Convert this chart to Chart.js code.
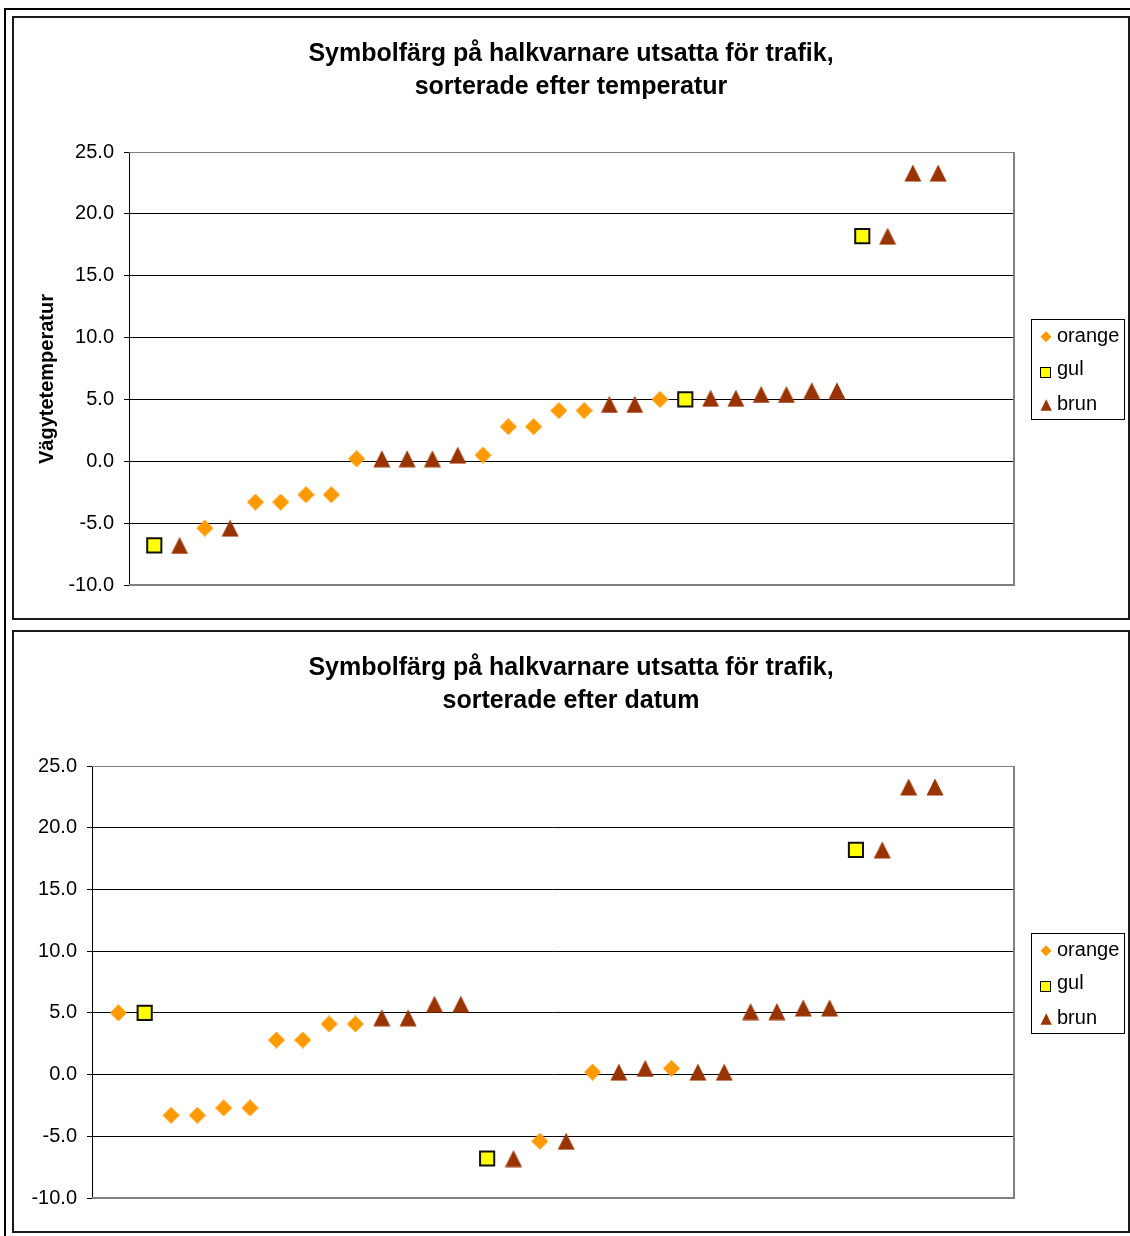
<!DOCTYPE html>
<html><head><meta charset="utf-8">
<script src="https://cdn.jsdelivr.net/npm/chart.js@4.4.1/dist/chart.umd.min.js"></script>
<style>
html,body{margin:0;padding:0;background:#fff;width:1130px;height:1236px;overflow:hidden;}
#frame{position:absolute;left:4px;top:8px;width:1200px;height:1300px;border-top:2px solid #000;border-left:2px solid #000;}
.box{position:absolute;left:12px;width:1118px;box-sizing:border-box;border:2px solid #1a1a1a;background:#fff;}
#box1{top:16px;height:604px;}
#box2{top:630px;height:603px;}
canvas{position:absolute;left:0;top:0;}
</style></head>
<body>
<div id="frame"></div>
<div class="box" id="box1"><canvas id="c1" width="1114" height="600"></canvas></div>
<div class="box" id="box2"><canvas id="c2" width="1114" height="599"></canvas></div>
<script>
// ---- data ----
const seriesNames = ['orange', 'gul', 'brun'];
const seriesColors = ['#FF9900', '#FFFF00', '#993300'];
const yTicks = [-10, -5, 0, 5, 10, 15, 20, 25];

const topTitle = ['Symbolfärg på halkvarnare utsatta för trafik,', 'sorterade efter temperatur'];
const topTemps = [-6.8, -6.8, -5.4, -5.4, -3.3, -3.3, -2.7, -2.7, 0.2, 0.2, 0.2, 0.2, 0.5, 0.5, 2.8, 2.8,
                  4.1, 4.1, 4.6, 4.6, 5.0, 5.0, 5.1, 5.1, 5.4, 5.4, 5.7, 5.7, 18.2, 18.2, 23.3, 23.3];
const topSymbols = ['gul','brun','orange','brun','orange','orange','orange','orange','orange','brun','brun','brun','brun','orange','orange','orange',
                    'orange','orange','brun','brun','orange','gul','brun','brun','brun','brun','brun','brun','gul','brun','brun','brun'];

const bottomTitle = ['Symbolfärg på halkvarnare utsatta för trafik,', 'sorterade efter datum'];
const bottomTemps = [5.0, 5.0, -3.3, -3.3, -2.7, -2.7, 2.8, 2.8, 4.1, 4.1, 4.6, 4.6, 5.7, 5.7, -6.8, -6.8,
                     -5.4, -5.4, 0.2, 0.2, 0.5, 0.5, 0.2, 0.2, 5.1, 5.1, 5.4, 5.4, 18.2, 18.2, 23.3, 23.3];
const bottomSymbols = ['orange','gul','orange','orange','orange','orange','orange','orange','orange','orange','brun','brun','brun','brun','gul','brun',
                       'orange','brun','orange','brun','brun','orange','brun','brun','brun','brun','brun','brun','gul','brun','brun','brun'];

const yAxisTitle = 'Vägytetemperatur';
// ---------------

const FONT = '"Liberation Sans", Arial, sans-serif';

function triangleImage() {
  const c = document.createElement('canvas');
  c.width = 18; c.height = 18;
  const g = c.getContext('2d');
  g.fillStyle = seriesColors[2];
  g.beginPath();
  g.moveTo(9, 0.5); g.lineTo(17.5, 17.5); g.lineTo(0.5, 17.5); g.closePath();
  g.fill();
  return c;
}
function diamondImage() {
  const c = document.createElement('canvas');
  c.width = 17; c.height = 17;
  const g = c.getContext('2d');
  g.fillStyle = seriesColors[0];
  g.beginPath();
  g.moveTo(8.5, 0); g.lineTo(17, 8.5); g.lineTo(8.5, 17); g.lineTo(0, 8.5); g.closePath();
  g.fill();
  return c;
}
const triImg = triangleImage();
const diaImg = diamondImage();

const styleFor = {
  orange: {pointStyle: diaImg, pointRadius: 9, pointBackgroundColor: seriesColors[0], pointBorderColor: seriesColors[0], pointBorderWidth: 0},
  gul:    {pointStyle: 'rect', pointRadius: 10, pointBackgroundColor: seriesColors[1], pointBorderColor: '#111', pointBorderWidth: 2},
  brun:   {pointStyle: triImg, pointRadius: 9, pointBackgroundColor: seriesColors[2], pointBorderColor: seriesColors[2], pointBorderWidth: 0}
};

function makeDatasets(temps, symbols) {
  return seriesNames.map((name) => Object.assign({
    label: name,
    data: temps.map((t, i) => symbols[i] === name ? {x: i + 1, y: t} : null).filter(p => p !== null),
    showLine: false
  }, styleFor[name]));
}

const framePlugin = {
  id: 'frameLegend',
  beforeDatasetsDraw(chart) {
    const a = chart.chartArea, ctx = chart.ctx;
    ctx.save();
    ctx.strokeStyle = '#808080';
    ctx.lineWidth = 1;
    ctx.beginPath(); ctx.moveTo(a.left, a.top + 0.5); ctx.lineTo(a.right, a.top + 0.5); ctx.stroke();
    ctx.lineWidth = 2;
    ctx.beginPath(); ctx.moveTo(a.right, a.top); ctx.lineTo(a.right, a.bottom + 1); ctx.stroke();
    ctx.beginPath(); ctx.moveTo(a.left, a.bottom); ctx.lineTo(a.right + 1, a.bottom); ctx.stroke();
    ctx.restore();
  },
  afterDraw(chart, args, opts) {
    const ctx = chart.ctx;
    ctx.save();
    // legend box
    ctx.strokeStyle = '#000'; ctx.lineWidth = 1;
    ctx.strokeRect(1017.5, 301.5, 93, 100);
    // orange diamond
    ctx.fillStyle = seriesColors[0];
    ctx.beginPath();
    ctx.moveTo(1032, 313.2); ctx.lineTo(1037.5, 318.7); ctx.lineTo(1032, 324.2); ctx.lineTo(1026.5, 318.7); ctx.closePath();
    ctx.fill();
    // gul square
    ctx.fillStyle = seriesColors[1];
    ctx.fillRect(1026.5, 349.5, 10, 10);
    ctx.strokeStyle = '#000';
    ctx.strokeRect(1026.5, 349.5, 10, 10);
    // brun triangle
    ctx.fillStyle = seriesColors[2];
    ctx.beginPath();
    ctx.moveTo(1032.2, 381.3); ctx.lineTo(1037.8, 392.7); ctx.lineTo(1026.6, 392.7); ctx.closePath();
    ctx.fill();
    // legend text
    ctx.fillStyle = '#000';
    ctx.font = '20px ' + FONT;
    ctx.textAlign = 'left'; ctx.textBaseline = 'alphabetic';
    const baselines = [324, 357, 392];
    seriesNames.forEach((n, i) => ctx.fillText(n, 1043, baselines[i]));
    // y-axis title
    if (opts.yTitle) {
      ctx.translate(39, 361);
      ctx.rotate(-Math.PI / 2);
      ctx.font = 'bold 20px ' + FONT;
      ctx.textAlign = 'center';
      ctx.fillText(opts.yTitle, 0, 0);
    }
    ctx.restore();
  }
};

function makeChart(id, title, temps, symbols, yWidth, yTitle) {
  return new Chart(document.getElementById(id), {
    type: 'scatter',
    data: {datasets: makeDatasets(temps, symbols)},
    plugins: [framePlugin],
    options: {
      responsive: false,
      animation: false,
      events: [],
      layout: {padding: {left: 0, right: 0, top: 0, bottom: 33}},
      plugins: {
        legend: {display: false},
        tooltip: {enabled: false},
        title: {
          display: true,
          text: title,
          color: '#000',
          font: {family: FONT, size: 25, weight: 'bold', lineHeight: 1.32},
          padding: {top: 19.5, bottom: 48.5}
        },
        frameLegend: {yTitle: yTitle}
      },
      scales: {
        x: {type: 'linear', min: 0, max: 35, display: false},
        y: {
          type: 'linear', position: 'left',
          min: yTicks[0], max: yTicks[yTicks.length - 1],
          afterBuildTicks: (s) => { s.ticks = yTicks.map(v => ({value: v})); },
          afterFit: (s) => { s.width = yWidth; },
          ticks: {
            color: '#000', padding: 10,
            font: {family: FONT, size: 20},
            callback: (v) => Number(v).toFixed(1)
          },
          grid: {
            color: (c) => (c.tick && (c.tick.value === 25 || c.tick.value === -10)) ? '#808080' : '#000',
            tickColor: '#000',
            tickLength: 5,
            lineWidth: 1
          },
          border: {display: true, color: '#000', width: 1}
        },
        yRight: {
          type: 'linear', position: 'right', display: true,
          ticks: {display: false},
          grid: {display: false, drawOnChartArea: false},
          border: {display: false},
          afterFit: (s) => { s.width = 114; }
        }
      }
    }
  });
}

makeChart('c1', topTitle, topTemps, topSymbols, 115, yAxisTitle);
makeChart('c2', bottomTitle, bottomTemps, bottomSymbols, 78, null);
</script>
</body></html>
